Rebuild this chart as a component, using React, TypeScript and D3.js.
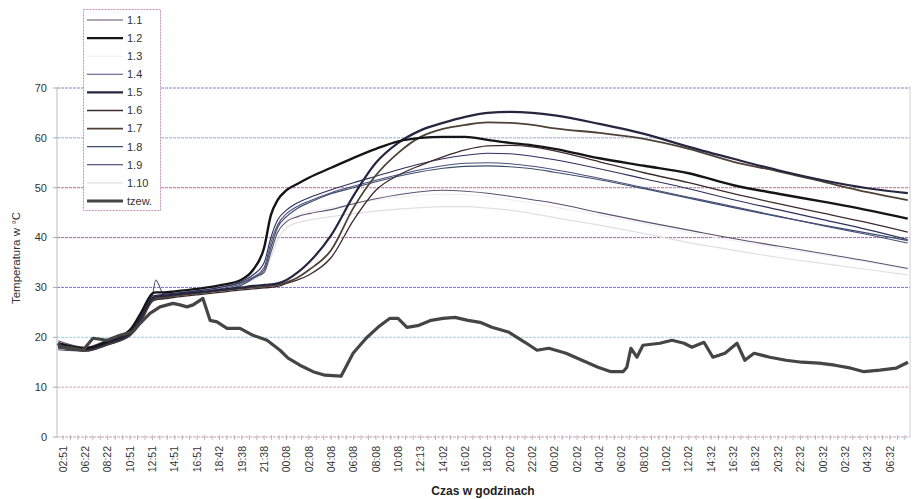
import React from "react";
import * as d3 from "d3";

// sample positions in category-label units (label i sits at position i)
const sampleT = [-0.22, 1, 2, 3, 3.5, 4, 4.15, 4.5, 5, 6, 7, 8, 8.5, 9, 9.3, 9.6, 10, 10.5, 11, 12, 13, 14, 15, 16, 17, 18, 19, 20, 21, 22, 24, 26, 28, 30, 32, 34, 36, 37.8];

const s11 = [19.3, 18, 19.5, 21.5, 24.8, 28.5, 31.5, 28.7, 28.8, 29.3, 30, 31, 32, 33, 37, 41, 43.2, 44.2, 44.8, 45.6, 46.8, 47.8, 48.6, 49.2, 49.5, 49.3, 48.9, 48.3, 47.6, 46.9, 45, 43.2, 41.5, 39.8, 38.3, 36.8, 35.3, 33.8];
const s12 = [18.8, 17.8, 19.2, 21.5, 25, 28.8, 29, 29, 29.2, 29.7, 30.4, 31.6, 33.5, 38, 44.5, 47.5, 49.5, 50.8, 52, 54, 56, 57.8, 59.3, 60, 60.2, 60.2, 59.6, 59, 58.5, 57.8, 55.9, 54.4, 52.9, 50.5, 48.8, 47.2, 45.5, 43.8];
const s13 = [18.4, 17.7, 19.1, 21.2, 24.4, 28.2, 28.3, 28.4, 28.7, 29.2, 29.9, 31, 32.3, 34, 38, 41.5, 43.5, 44.6, 45.2, 46, 46.8, 47.5, 48.1, 48.5, 48.7, 48.6, 48.2, 47.6, 46.9, 46.1, 44.5, 42.8, 41, 39.4, 37.9, 36.5, 35.1, 33.7];
const s14 = [17.8, 17.3, 18.6, 20.8, 24, 28, 28.1, 28.2, 28.5, 29, 29.7, 30.8, 32, 34, 39, 42.5, 44.8, 46.3, 47.3, 49, 50.3, 51.5, 52.6, 53.6, 54.4, 54.9, 55, 54.8, 54.3, 53.6, 51.9, 50, 48.1, 46.2, 44.3, 42.4, 40.6, 38.9];
const s15 = [18.3, 17.6, 18.9, 20.8, 24, 27.8, 28.2, 28.3, 28.6, 29, 29.5, 30, 30.3, 30.5, 30.6, 30.8, 31.5, 33, 35, 40.5, 48.4, 55, 59, 61.5, 63, 64.2, 65, 65.2, 65, 64.5, 62.8, 60.8, 58.2, 55.8, 53.5, 51.5, 49.9, 48.9];
const s16 = [18, 17.3, 18.5, 20.3, 23.2, 27.2, 27.5, 27.7, 28, 28.5, 29, 29.5, 29.7, 29.9, 30, 30.2, 30.8, 31.5, 32.5, 36, 43.5, 49.5, 52.5, 54.5, 56.2, 57.6, 58.4, 58.5, 58.2, 57.4, 55.2, 53, 51, 48.8, 46.8, 44.9, 43, 41.1];
const s17 = [18.1, 17.4, 18.7, 20.5, 23.6, 27.5, 27.8, 28, 28.3, 28.8, 29.3, 29.8, 30, 30.2, 30.3, 30.5, 31, 32, 33.5, 37.5, 46, 52.5, 57, 60.2, 61.8, 62.6, 63.1, 63, 62.6, 61.9, 61, 59.8, 57.8, 55.2, 53.3, 51.2, 49.1, 47.5];
const s18 = [17.5, 17.2, 18.5, 20.5, 23.5, 27.5, 27.6, 27.8, 28.3, 28.8, 29.4, 30.5, 31.8, 33.5, 38, 42, 44.2, 45.9, 47, 48.8, 50, 51.2, 52.3, 53.2, 53.9, 54.3, 54.4, 54.2, 53.8, 53.1, 51.6, 49.8, 47.9, 46, 44.2, 42.5, 40.9, 39.4];
const s19 = [18.2, 17.5, 19, 21, 24.5, 28.3, 28.4, 28.6, 28.8, 29.3, 30, 31.2, 32.5, 35, 40, 43.5, 45.5, 47, 48, 49.6, 51, 52.3, 53.6, 54.8, 55.8, 56.5, 56.9, 56.8, 56.3, 55.6, 53.8, 51.8, 49.8, 47.6, 45.6, 43.6, 41.6, 39.6];
const s110 = [18, 17.3, 18.7, 20.7, 23.8, 27.8, 27.9, 28, 28.3, 28.8, 29.5, 30.5, 31.5, 33, 36, 39.5, 42, 43, 43.5, 44.2, 44.8, 45.3, 45.7, 46, 46.2, 46.2, 45.9, 45.5, 44.8, 44, 42.5, 40.8, 39, 37.5, 36, 34.8, 33.6, 32.5];

// outside temperature (own, finer sampling)
const tzewT = [-0.22, -0.13, 0.45, 0.89, 1.34, 1.97, 2.55, 3.13, 3.45, 3.89, 4.34, 4.92, 5.23, 5.55, 5.82, 6.26, 6.58, 6.89, 7.34, 7.92, 8.5, 9.13, 9.71, 10.07, 10.6, 11.19, 11.72, 12.44, 12.98, 13.56, 14.09, 14.63, 14.99, 15.39, 15.93, 16.47, 17.0, 17.54, 18.12, 18.66, 19.19, 19.96, 20.67, 21.21, 21.74, 22.51, 23.22, 23.94, 24.52, 25.06, 25.23, 25.41, 25.68, 25.95, 26.71, 27.25, 27.79, 28.14, 28.68, 29.08, 29.62, 30.16, 30.51, 30.92, 31.63, 32.35, 33.06, 33.83, 34.54, 35.26, 35.84, 36.55, 37.27, 37.81];
const tzewV = [18.8, 18.1, 17.8, 17.4, 19.8, 19.4, 20.4, 21.1, 22.8, 24.8, 26.1, 26.8, 26.5, 26.1, 26.5, 27.8, 23.4, 23.1, 21.8, 21.8, 20.4, 19.4, 17.4, 15.8, 14.4, 13.1, 12.4, 12.2, 16.8, 19.8, 22, 23.8, 23.8, 22, 22.4, 23.4, 23.8, 24, 23.4, 23, 22, 21, 19, 17.4, 17.8, 16.8, 15.4, 14, 13.1, 13.1, 14, 17.8, 16, 18.4, 18.8, 19.4, 18.8, 18, 19, 16, 16.8, 18.8, 15.4, 16.8, 16, 15.4, 15, 14.8, 14.4, 13.8, 13.1, 13.4, 13.8, 15];

const xLabels = ["02:51", "06:22", "08:22", "10:51", "12:51", "14:51", "16:51", "18:42", "19:38", "21:38", "00:08", "02:08", "04:08", "06:08", "08:08", "10:08", "12:13", "14:02", "16:02", "18:02", "20:02", "22:02", "00:02", "02:02", "04:02", "06:02", "08:02", "10:02", "12:02", "14:32", "16:32", "18:32", "20:32", "22:32", "00:32", "02:32", "04:32", "06:32"];
const yTicks = [0, 10, 20, 30, 40, 50, 60, 70];
const seriesNames = ["1.1", "1.2", "1.3", "1.4", "1.5", "1.6", "1.7", "1.8", "1.9", "1.10", "tzew."];
const yTitle = "Temperatura w °C";
const xTitle = "Czas w  godzinach";

const styles: Record<string, { c: string; w: number }> = {
  "1.1": { c: "#5d5070", w: 1.1 },
  "1.2": { c: "#151515", w: 2.4 },
  "1.3": { c: "#eeeeee", w: 1 },
  "1.4": { c: "#4b4f7e", w: 1.1 },
  "1.5": { c: "#262640", w: 2.2 },
  "1.6": { c: "#3e2b2e", w: 1.3 },
  "1.7": { c: "#4e4236", w: 1.8 },
  "1.8": { c: "#3d4f68", w: 1.2 },
  "1.9": { c: "#2d2f5e", w: 1.1 },
  "1.10": { c: "#e0e0e0", w: 1.2 },
  "tzew.": { c: "#454545", w: 3.2 },
};
const gridColors = ["#c8a0b0", "#d89aa8", "#8ccfe3", "#7a5fd0", "#a05aa0", "#b0608c", "#8aa0e0", "#7d72c8"];

export default function App() {
  const x = d3.scaleLinear().domain([-0.27, 37.9]).range([57, 910]);
  const y = d3.scaleLinear().domain([0, 70]).range([437, 88]);
  const smooth = d3.line<[number, number]>().x((d) => x(d[0])).y((d) => y(d[1])).curve(d3.curveMonotoneX);
  const straight = d3.line<[number, number]>().x((d) => x(d[0])).y((d) => y(d[1]));

  const heated: [string, number[]][] = [
    ["1.3", s13], ["1.10", s110], ["1.1", s11], ["1.8", s18], ["1.4", s14], ["1.9", s19],
    ["1.6", s16], ["1.7", s17], ["1.5", s15], ["1.2", s12],
  ];
  const font = "'Liberation Sans', Arial, sans-serif";
  const minorTicks = d3.range(0, Math.floor(37.9 * 3) + 1).map((k) => k / 3);
  const [x0, x1] = x.range();

  return (
    <svg width={924} height={499} style={{ position: "absolute", left: 0, top: 0, background: "#fff" }} fontFamily={font}>
      <rect width={924} height={499} fill="#fff" />
      {yTicks.filter((t) => t > 0).map((t, i) => (
        <line key={t} x1={x0} x2={x1} y1={y(t)} y2={y(t)} stroke={gridColors[i + 1]} strokeWidth={1} strokeDasharray="3 1" opacity={0.9} />
      ))}
      <line x1={x0} x2={x0} y1={y(70)} y2={y(0)} stroke="#bdbdbd" strokeWidth={1} />
      <line x1={x1} x2={x1} y1={y(70) - 2} y2={y(0)} stroke="#d0d0d0" strokeWidth={1} />
      <line x1={x0} x2={x1} y1={y(0)} y2={y(0)} stroke={gridColors[0]} strokeWidth={1} strokeDasharray="3 1" />
      {minorTicks.map((t) => (
        <line key={t} x1={x(t)} x2={x(t)} y1={y(0) - 2} y2={y(0) + 3} stroke="#b0a8b8" strokeWidth={0.8} />
      ))}
      {yTicks.map((t) => (
        <g key={t}>
          <line x1={x0 - 4} x2={x0} y1={y(t)} y2={y(t)} stroke="#aaa" />
          <text x={47} y={y(t)} dy="0.35em" textAnchor="end" fontSize={11} fill="#333">{t}</text>
        </g>
      ))}
      {xLabels.map((lab, i) => (
        <text key={i} transform={`translate(${x(i)},446) rotate(-90)`} textAnchor="end" dy="0.35em" fontSize={10.5} fill="#333">{lab}</text>
      ))}
      {heated.map(([name, vals]) => (
        <path key={name} d={smooth(sampleT.map((t, i) => [t, vals[i]] as [number, number])) || ""} fill="none"
          stroke={styles[name].c} strokeWidth={styles[name].w} strokeLinejoin="round" />
      ))}
      <path d={straight(tzewT.map((t, i) => [t, tzewV[i]] as [number, number])) || ""} fill="none"
        stroke={styles["tzew."].c} strokeWidth={styles["tzew."].w} strokeLinejoin="round" />
      <text transform="translate(20,258) rotate(-90)" textAnchor="middle" fontSize={11.5} fill="#333">{yTitle}</text>
      <text x={483} y={495} textAnchor="middle" fontSize={12} fontWeight="bold" fill="#222">{xTitle}</text>
      <g>
        <rect x={83.5} y={9.5} width={77} height={201} fill="#fff" stroke="#c890b8" strokeDasharray="2 1" />
        {seriesNames.map((n, i) => {
          const ly = 20 + i * 18.1;
          return (
            <g key={n}>
              <line x1={87} x2={123} y1={ly} y2={ly} stroke={styles[n].c} strokeWidth={styles[n].w} />
              <text x={127} y={ly} dy="0.35em" fontSize={11} fill="#333">{n}</text>
            </g>
          );
        })}
      </g>
    </svg>
  );
}
